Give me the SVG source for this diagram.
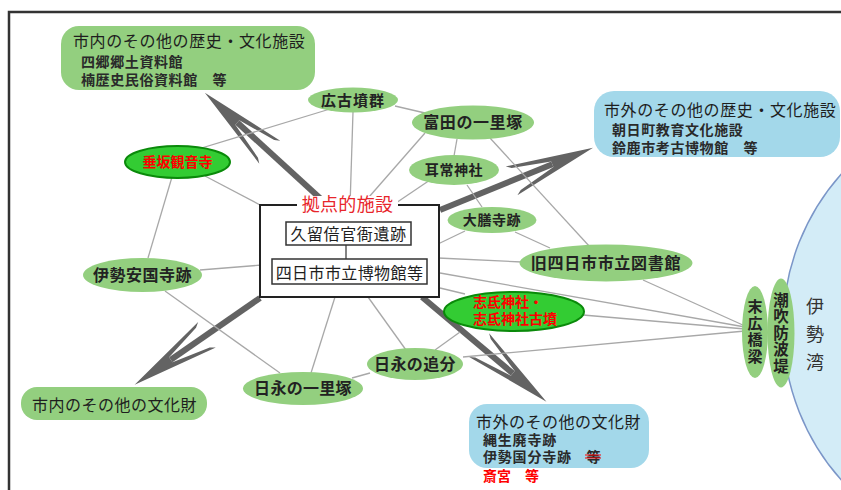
<svg xmlns="http://www.w3.org/2000/svg" width="841" height="490" viewBox="0 0 841 490">
<defs>
<style>
text{font-family:'Noto Sans CJK JP','Noto Sans CJK SC',sans-serif;fill:#1e1e1e}
.h{font-size:16px;letter-spacing:0.6px}
.s{font-size:14px;font-weight:bold;letter-spacing:0.6px;fill:#2a2a2a}
.n{font-size:16px;font-weight:bold;letter-spacing:0.5px;text-anchor:middle;fill:#222}
.n14{font-size:14px;font-weight:bold;letter-spacing:0.6px;text-anchor:middle;fill:#222}
.v{font-weight:bold;fill:#222;writing-mode:vertical-rl;text-orientation:upright}
.red{fill:#ff0000;font-weight:bold;font-size:14px}
.g{fill:#93cf7f}
.b{fill:#a3d8ea}
.rg{fill:#33cc33;stroke:#0a8a0a;stroke-width:2}
.ln{stroke:#a8a8a8;stroke-width:1.3;fill:none}
.ar{stroke:#636363;stroke-width:6;fill:none;marker-end:url(#ah)}
.bx{fill:#fff;stroke:#333;stroke-width:1.5}
</style>
<marker id="ah" viewBox="0 0 92 36" refX="46" refY="18" markerWidth="92" markerHeight="36" markerUnits="userSpaceOnUse" orient="auto">
<path d="M90,18 L2,2.5 L7,6 L46,15 L46,21 L7,30 L2,33.5 Z" fill="#636363"/>
</marker>
</defs>
<rect x="0" y="0" width="841" height="490" fill="#fff"/>
<rect x="9" y="12" width="860" height="500" fill="none" stroke="#333" stroke-width="2.5"/>

<g id="ise-bay">
<circle cx="1013" cy="327" r="230" fill="#d3ecf7" stroke="#7b96c8" stroke-width="1.5"/>
<text x="815" y="297" style="font-size:18px;fill:#333;writing-mode:vertical-rl;text-orientation:upright;letter-spacing:10px">伊勢湾</text>
</g>

<g id="connectors">
<line class="ar" x1="322" y1="200" x2="237.3" y2="122.5"/>
<line class="ar" x1="440" y1="210" x2="552.3" y2="164.3"/>
<line class="ar" x1="260" y1="298" x2="170.8" y2="359.8"/>
<line class="ar" x1="422" y1="297" x2="512.8" y2="373.4"/>
<line class="ln" x1="330" y1="109" x2="195" y2="150"/>
<line class="ln" x1="353" y1="112" x2="350" y2="206"/>
<line class="ln" x1="395" y1="106" x2="425" y2="113"/>
<line class="ln" x1="425" y1="133" x2="362" y2="205"/>
<line class="ln" x1="457" y1="139" x2="454" y2="156"/>
<line class="ln" x1="490" y1="138" x2="590" y2="247"/>
<line class="ln" x1="430" y1="180" x2="390" y2="207"/>
<line class="ln" x1="467" y1="185" x2="482" y2="207"/>
<line class="ln" x1="465" y1="231" x2="438" y2="244"/>
<line class="ln" x1="515" y1="232" x2="550" y2="248"/>
<line class="ln" x1="438" y1="258" x2="522" y2="262"/>
<line class="ln" x1="643" y1="280" x2="745" y2="326"/>
<line class="ln" x1="440" y1="273" x2="745" y2="327"/>
<line class="ln" x1="440" y1="288" x2="465" y2="294"/>
<line class="ln" x1="583" y1="315" x2="745" y2="329"/>
<line class="ln" x1="463" y1="357" x2="745" y2="331"/>
<line class="ln" x1="335" y1="297" x2="311" y2="373"/>
<line class="ln" x1="368" y1="297" x2="406" y2="350"/>
<line class="ln" x1="352" y1="378" x2="370" y2="373"/>
<line class="ln" x1="435" y1="350" x2="460" y2="332"/>
<line class="ln" x1="200" y1="270" x2="262" y2="265"/>
<line class="ln" x1="148" y1="258" x2="172" y2="177"/>
<line class="ln" x1="205" y1="176" x2="262" y2="206"/>
<line class="ln" x1="165" y1="291" x2="280" y2="373"/>
</g>

<g id="city-history-facilities">
<rect class="g" x="61" y="26" width="254" height="64" rx="18"/>
<text><tspan class="h" x="73" y="47">市内のその他の歴史・文化施設</tspan><tspan class="s" x="81" y="67">四郷郷土資料館</tspan><tspan class="s" x="81" y="85">楠歴史民俗資料館　等</tspan></text>
</g>

<g id="outside-history-facilities">
<rect class="b" x="594" y="91" width="246" height="66" rx="20"/>
<text><tspan class="h" x="604" y="116">市外のその他の歴史・文化施設</tspan><tspan class="s" x="612" y="135">朝日町教育文化施設</tspan><tspan class="s" x="612" y="153">鈴鹿市考古博物館　等</tspan></text>
</g>

<g id="city-cultural-properties">
<rect class="g" x="21" y="387" width="186" height="33" rx="16"/>
<text class="h" style="letter-spacing:0.5px" x="32" y="411">市内のその他の文化財</text>
</g>

<g id="outside-cultural-properties">
<rect class="b" x="469" y="404" width="180" height="64" rx="18"/>
<text><tspan class="h" style="letter-spacing:0.5px" x="476" y="428">市外のその他の文化財</tspan><tspan class="s" style="letter-spacing:0.8px" x="483" y="445">縄生廃寺跡</tspan><tspan class="s" style="letter-spacing:0.8px" x="483" y="462">伊勢国分寺跡　等</tspan><tspan class="red" x="483" y="481">斎宮　等</tspan></text>
<line x1="585" y1="455" x2="601" y2="455" stroke="#ff0000" stroke-width="1"/>
<line x1="585" y1="458" x2="601" y2="458" stroke="#ff0000" stroke-width="1"/>
</g>

<g id="core-facility">
<rect x="260" y="205" width="179" height="92" fill="#fff" stroke="#222" stroke-width="2"/>
<rect x="297" y="196" width="101" height="18" fill="#fff"/>
<text x="347.5" y="211" style="font-size:18px;letter-spacing:0.3px;text-anchor:middle;fill:#e8262b">拠点的施設</text>
<rect class="bx" x="286" y="222" width="125" height="23"/>
<text x="348.5" y="240" style="font-size:16px;letter-spacing:0.6px;text-anchor:middle">久留倍官衙遺跡</text>
<line x1="346" y1="245" x2="346" y2="259" stroke="#333" stroke-width="1.2"/>
<rect class="bx" x="272" y="259" width="155" height="25"/>
<text x="349.5" y="278.5" style="font-size:16px;letter-spacing:0.4px;text-anchor:middle">四日市市立博物館等</text>
</g>

<g id="hiroko-kofun">
<ellipse class="g" cx="353" cy="100" rx="45" ry="12.5"/>
<text class="n" style="font-size:15px;letter-spacing:1px" x="353" y="105.5">広古墳群</text>
</g>
<g id="tomida-ichirizuka">
<ellipse class="g" cx="473" cy="122.5" rx="61" ry="17"/>
<text class="n" style="letter-spacing:0.6px" x="473" y="128">富田の一里塚</text>
</g>
<g id="mitsune-jinja">
<ellipse class="g" cx="454" cy="170" rx="45" ry="15"/>
<text class="n14" x="454" y="175">耳常神社</text>
</g>
<g id="daizenji-ato">
<ellipse class="g" cx="492" cy="220" rx="44.5" ry="13"/>
<text class="n14" x="492" y="225">大膳寺跡</text>
</g>
<g id="old-library">
<ellipse class="g" cx="606" cy="263" rx="86.5" ry="18.5"/>
<text class="n" style="letter-spacing:0.7px" x="606" y="269">旧四日市市立図書館</text>
</g>
<g id="tarusaka-kannonji">
<ellipse class="rg" cx="177.5" cy="162" rx="52.5" ry="16"/>
<text class="red" style="text-anchor:middle" x="177.5" y="167">垂坂観音寺</text>
</g>
<g id="ise-ankokuji">
<ellipse class="g" cx="142.5" cy="275" rx="59.5" ry="17"/>
<text class="n" x="142.5" y="281">伊勢安国寺跡</text>
</g>
<g id="shide-jinja">
<ellipse class="rg" cx="514" cy="311.5" rx="70" ry="19.5"/>
<text class="red"><tspan x="473" y="307">志氐神社・</tspan><tspan x="473" y="324">志氐神社古墳</tspan></text>
</g>
<g id="hinaga-oiwake">
<ellipse class="g" cx="415" cy="364" rx="48" ry="16"/>
<text class="n" style="letter-spacing:0.4px" x="415" y="370">日永の追分</text>
</g>
<g id="hinaga-ichirizuka">
<ellipse class="g" cx="303" cy="388.5" rx="60" ry="16.5"/>
<text class="n" style="letter-spacing:0.3px" x="303" y="394">日永の一里塚</text>
</g>
<g id="suehiro-bridge">
<ellipse class="g" cx="755" cy="332" rx="13" ry="46"/>
<text class="v" x="755" y="299" style="font-size:15px;letter-spacing:1.5px">末広橋梁</text>
</g>
<g id="shiofuki-breakwater">
<ellipse class="g" cx="781" cy="333" rx="13.5" ry="54.5"/>
<text class="v" x="781" y="292" style="font-size:15.5px;letter-spacing:1px">潮吹防波堤</text>
</g>
</svg>
